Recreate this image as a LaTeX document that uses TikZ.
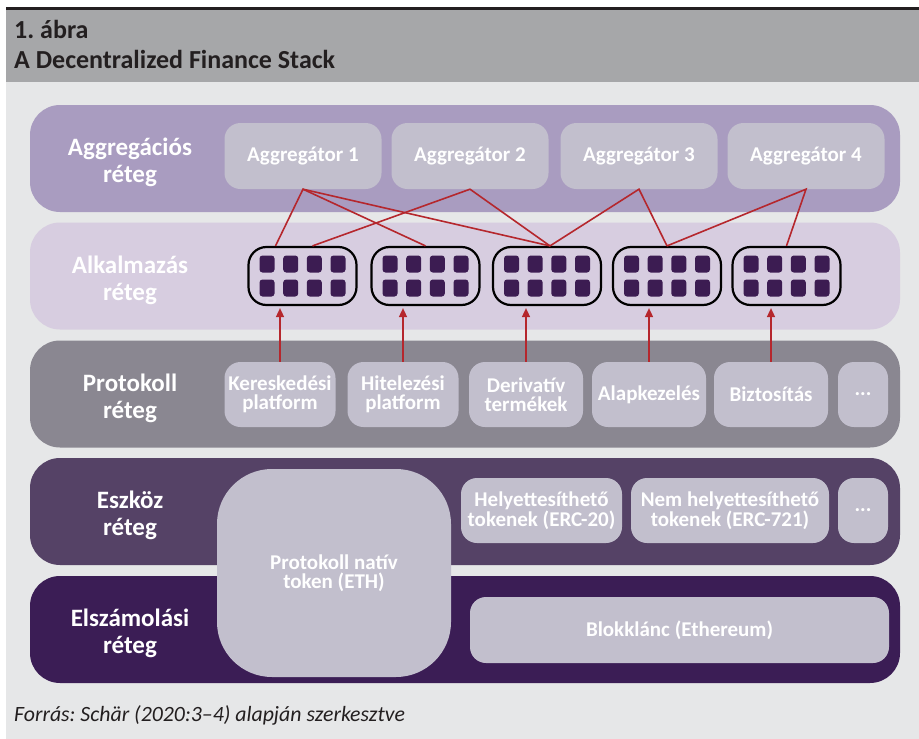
\documentclass[tikz,border=0pt]{standalone}
\usepackage{fontspec}
\setmainfont{Carlito}
\usetikzlibrary{arrows.meta}
\frenchspacing

\definecolor{pagebg}{HTML}{E6E7E8}
\definecolor{headgray}{HTML}{A6A7A9}
\definecolor{headline}{HTML}{231F20}
\definecolor{agglila}{HTML}{A99CC0}
\definecolor{applila}{HTML}{D7CDE0}
\definecolor{protgray}{HTML}{8A8791}
\definecolor{eszkpurple}{HTML}{554266}
\definecolor{elszpurple}{HTML}{3B1D55}
\definecolor{itemgray}{HTML}{C2BFCD}
\definecolor{dotpurple}{HTML}{3C1C52}
\definecolor{linkred}{HTML}{B5272D}

\tikzset{
  title/.style={text=headline, inner sep=0pt, font=\bfseries\fontsize{26}{29}\selectfont},
  layer/.style={rounded corners=30pt, minimum width=870pt, minimum height=107pt, inner sep=0pt},
  layerlabel/.style={text=white, align=center, inner sep=0pt, font=\bfseries\fontsize{25}{27}\selectfont},
  item/.style={fill=itemgray, rounded corners=16pt, inner sep=0pt, minimum height=65pt,
    text=white, align=center, font=\bfseries\fontsize{21}{19.5}\selectfont},
  appbox/.style={draw=black, line width=2.2pt, rounded corners=18pt, minimum width=108pt, minimum height=58pt},
  appdot/.style={fill=dotpurple, rounded corners=3pt},
  link/.style={draw=linkred, line width=1.6pt},
  uparrow/.style={link, -{Triangle[length=9pt,width=8pt]}, shorten >=2pt},
  source/.style={text=headline, inner sep=0pt, font=\itshape\fontsize{21.8}{24}\selectfont}
}

\begin{document}
\begin{tikzpicture}[x=1pt,y=-1pt]
  \useasboundingbox (0,0) rectangle (919,739);
  \fill[pagebg] (6,10) rectangle (919,739);
  \fill[headgray] (6,10) rectangle (919,82);
  \draw[headline, line width=2.5pt] (6,8.5) -- (919,8.5);
  \node[title, anchor=base west] (fignum) at (14,38) {1. ábra};
  \node[title, anchor=base west] (figtitle) at (14,68) {A Decentralized Finance Stack};

  \node[layer, fill=agglila] (agglayer) at (465,158.5) {};
  \node[layer, fill=applila] (applayer) at (465,276) {};
  \node[layer, fill=protgray] (protlayer) at (465,394) {};
  \node[layer, fill=eszkpurple] (eszklayer) at (465,511.5) {};
  \node[layer, fill=elszpurple] (elszlayer) at (465,629.5) {};

  \node[layerlabel] (agglabel) at (130,162) {Aggregációs\\réteg};
  \node[layerlabel] (applabel) at (130,280) {Alkalmazás\\réteg};
  \node[layerlabel] (protlabel) at (130,398) {Protokoll\\réteg};
  \node[layerlabel] (eszklabel) at (130,515) {Eszköz\\réteg};
  \node[layerlabel] (elszlabel) at (130,633) {Elszámolási\\réteg};

  \foreach \i/\x in {1/303,2/470,3/639,4/806}
    \node[item, minimum width=157pt, minimum height=66pt] (agg\i) at (\x,156) {Aggregátor \i};

  \foreach \i/\x in {1/302.5,2/425.5,3/547,4/667,5/786.5} {
    \node[appbox] (app\i) at (\x,276) {};
    \foreach \dx in {-35.5,-11.8,11.8,35.5}
      \foreach \dy in {-12,12}
        \fill[appdot] (\x+\dx-7.5,276+\dy-8.5) rectangle ++(15,17);
  }

  \node[item, minimum width=111pt] (prot1) at (280,394.5) {Kereskedési\\platform};
  \node[item, minimum width=111pt] (prot2) at (403,394.5) {Hitelezési\\platform};
  \node[item, minimum width=114pt] (prot3) at (526,394.5) {Derivatív\\termékek};
  \node[item, minimum width=114pt] (prot4) at (649,394.5) {Alapkezelés};
  \node[item, minimum width=114pt] (prot5) at (771,394.5) {Biztosítás};
  \node[item, minimum width=50pt] (protmore) at (863,394.5) {...};

  \node[item, minimum width=161pt] (fung) at (541.5,510.5) {Helyettesíthető\\tokenek (ERC-20)};
  \node[item, minimum width=198pt] (nonfung) at (730,510.5) {Nem helyettesíthető\\tokenek (ERC-721)};
  \node[item, minimum width=50pt] (eszkmore) at (863,510.5) {...};
  \node[item, minimum width=234pt, minimum height=208pt, rounded corners=55pt] (eth) at (334,573) {Protokoll natív\\token (ETH)};
  \node[item, minimum width=419pt, minimum height=66pt] (chain) at (679.5,630) {Blokklánc (Ethereum)};

  \foreach \i in {1,...,5}
    \draw[uparrow] (prot\i.north) -- (prot\i.north |- app\i.south);

  \draw[link] ([xshift=-27pt]app1.north) -- (agg1.south) -- (app2.north);
  \draw[link] (agg1.south) -- ([xshift=3pt]app3.north);
  \draw[link] ([xshift=10pt]app1.north) -- (agg2.south) -- ([xshift=3pt]app3.north);
  \draw[link] ([xshift=3pt]app3.north) -- (agg3.south) -- (app4.north);
  \draw[link] (app4.north) -- (agg4.south) -- (app5.north);

  \node[source, anchor=base west] (src) at (14,721) {Forrás: Schär (2020:3--4) alapján szerkesztve};
\end{tikzpicture}
\end{document}
